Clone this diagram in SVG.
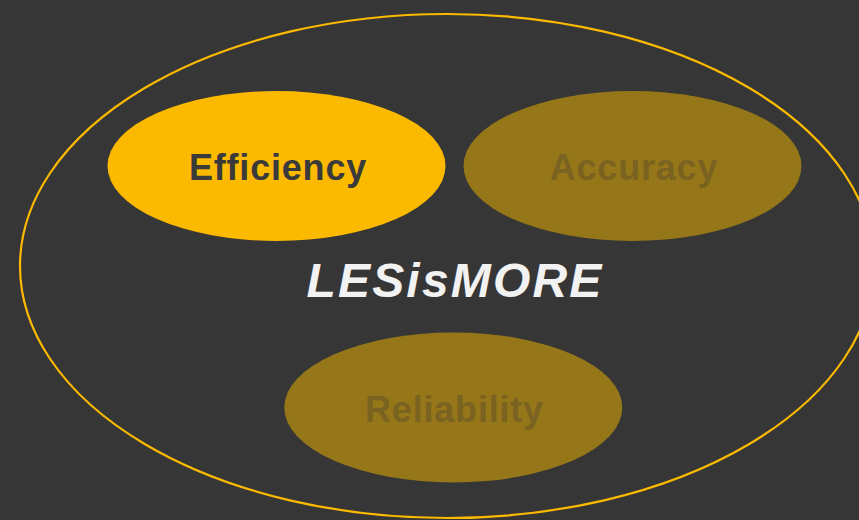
<svg xmlns="http://www.w3.org/2000/svg" width="859" height="520" viewBox="0 0 859 520">
<style>
.lbl{font-family:"Liberation Sans",Arial,sans-serif;font-weight:bold;font-size:36px;letter-spacing:0.8px;text-anchor:middle}
.dim{fill:#957719}
.dimt{fill:#7a6220}
</style>
<rect width="859" height="520" fill="#363636"/>
<g id="outer">
<ellipse cx="447" cy="266" rx="427" ry="252" fill="none" stroke="#FBB900" stroke-width="2.2"/>
<text x="455" y="297" font-family="Liberation Sans,Arial,sans-serif" font-weight="bold" font-style="italic" font-size="48" letter-spacing="2.2" text-anchor="middle" fill="#F2F2F2">LESisMORE</text>
</g>
<g id="efficiency">
<ellipse cx="276.5" cy="166" rx="169" ry="75" fill="#FBB900"/>
<text class="lbl" x="278" y="179.5" fill="#3A3A3A">Efficiency</text>
</g>
<g id="accuracy">
<ellipse class="dim" cx="632.5" cy="166" rx="169" ry="75"/>
<text class="lbl dimt" x="634" y="179.5" letter-spacing="1.4">Accuracy</text>
</g>
<g id="reliability">
<ellipse class="dim" cx="453.3" cy="407.5" rx="169" ry="75"/>
<text class="lbl dimt" x="454.5" y="422">Reliability</text>
</g>
<g id="connectors"/>
</svg>
